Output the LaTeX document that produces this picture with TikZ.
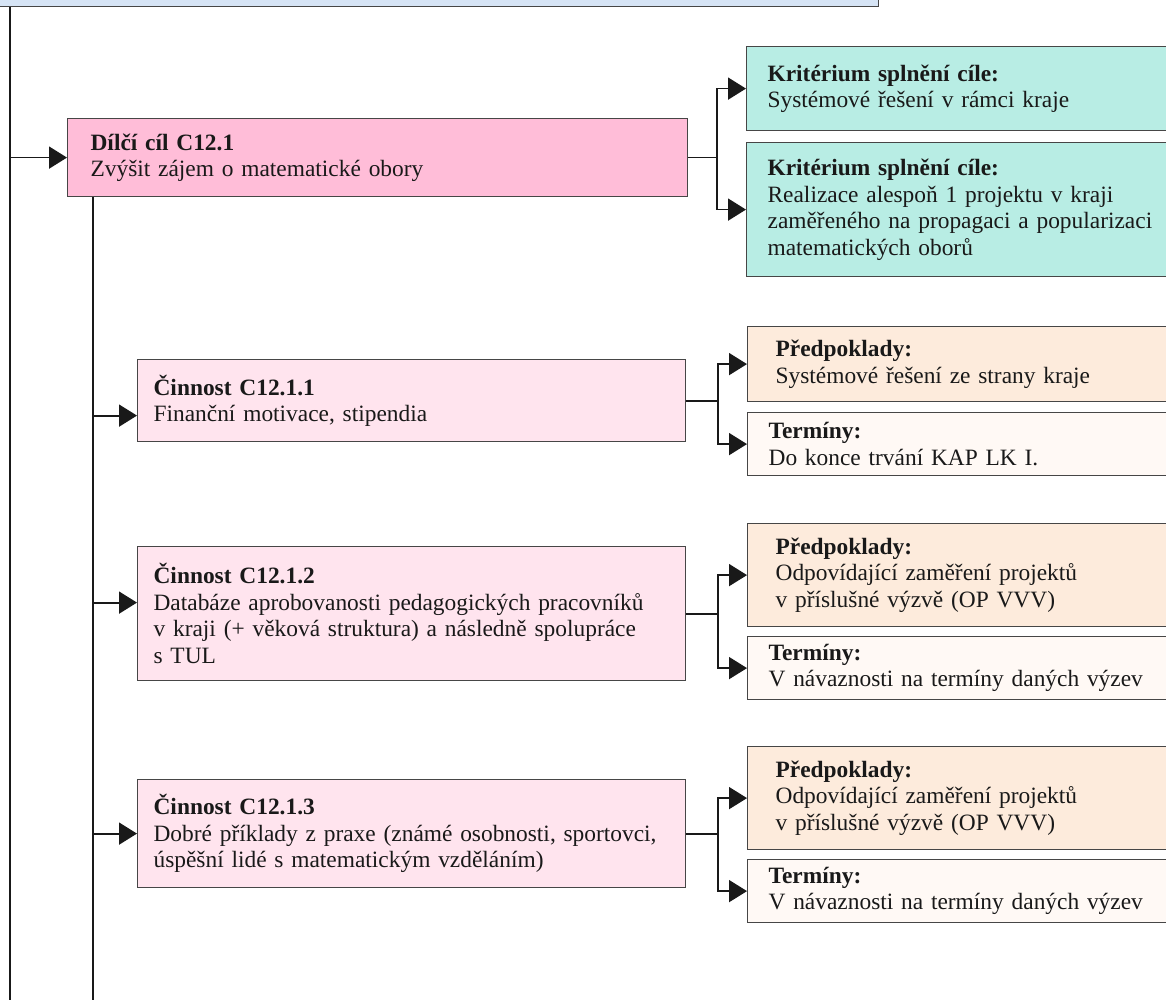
\documentclass[tikz,border=0pt]{standalone}
\usepackage{fontspec}
\setmainfont{Liberation Serif}
\usepackage{xcolor}
\usetikzlibrary{arrows.meta}

\definecolor{goalblue}{RGB}{214,228,245}
\definecolor{subpink}{RGB}{255,189,216}
\definecolor{actpink}{RGB}{255,228,238}
\definecolor{critgreen}{RGB}{184,237,228}
\definecolor{prepeach}{RGB}{253,235,220}
\definecolor{termcream}{RGB}{255,249,245}

\begin{document}
\begin{tikzpicture}[
  x=0.5pt, y=-0.5pt,
  font=\fontsize{11.7}{13.25}\selectfont,
  box/.style={draw=gray!55!black, line width=0.6pt, anchor=north west,
              align=left, text=black!90, inner ysep=2pt},
  goalbox/.style={draw=gray!55!black, line width=0.6pt, fill=goalblue,
                  anchor=south west, minimum width=449pt, minimum height=40pt},
  subbox/.style={box, fill=subpink, inner xsep=11.5pt, text width=287pt,
                 minimum height=39pt},
  actbox/.style={box, fill=actpink, inner xsep=8pt, text width=258pt},
  critbox/.style={box, fill=critgreen, inner xsep=10.5pt, text width=204pt},
  prebox/.style={box, fill=prepeach, inner xsep=14pt, text width=197pt},
  termbox/.style={box, fill=termcream, inner xsep=10.5pt, text width=204pt,
                  minimum height=31.5pt},
  link/.style={line width=0.9pt, draw=black!90},
  arr/.style={link, -{Triangle[length=9pt,width=11pt]}},
]
  \useasboundingbox (0,0) rectangle (1166,1000);

  % Goal strip (cut off at the top)
  \node[goalbox] (goal) at (-20,7) {};

  % Sub-goal and its criteria
  \node[subbox] (sub) at (67,118)
    {\textbf{Dílčí cíl C12.1}\\Zvýšit zájem o matematické obory};
  \node[critbox, minimum height=42pt] (crit1) at (746,46)
    {\textbf{Kritérium splnění cíle:}\\Systémové řešení v rámci kraje};
  \node[critbox, minimum height=67pt] (crit2) at (746,142)
    {\textbf{Kritérium splnění cíle:}\\Realizace alespoň 1 projektu v kraji\\
     zaměřeného na propagaci a popularizaci\\matematických oborů};

  % Activities
  \node[actbox, minimum height=41pt] (act1) at (137,359)
    {\textbf{Činnost C12.1.1}\\Finanční motivace, stipendia};
  \node[actbox, minimum height=67pt] (act2) at (137,546)
    {\textbf{Činnost C12.1.2}\\Databáze aprobovanosti pedagogických pracovníků\\
     v kraji (+ věková struktura) a následně spolupráce\\s TUL};
  \node[actbox, minimum height=54pt] (act3) at (137,779)
    {\textbf{Činnost C12.1.3}\\Dobré příklady z praxe (známé osobnosti, sportovci,\\
     úspěšní lidé s matematickým vzděláním)};

  % Prerequisites and deadlines
  \node[prebox, minimum height=37.5pt] (pre1) at (747,326)
    {\textbf{Předpoklady:}\\Systémové řešení ze strany kraje};
  \node[termbox] (term1) at (747,412)
    {\textbf{Termíny:}\\Do konce trvání KAP LK I.};
  \node[prebox, minimum height=51.5pt] (pre2) at (747,523)
    {\textbf{Předpoklady:}\\Odpovídající zaměření projektů\\v příslušné výzvě (OP VVV)};
  \node[termbox] (term2) at (747,636)
    {\textbf{Termíny:}\\V návaznosti na termíny daných výzev};
  \node[prebox, minimum height=51.5pt] (pre3) at (747,746)
    {\textbf{Předpoklady:}\\Odpovídající zaměření projektů\\v příslušné výzvě (OP VVV)};
  \node[termbox] (term3) at (747,859)
    {\textbf{Termíny:}\\V návaznosti na termíny daných výzev};

  % Trunk lines
  \coordinate (trunkA) at (10,1010);
  \coordinate (trunkB) at (93,1010);
  \draw[link] (goal.south -| trunkA) -- (trunkA);
  \draw[link] (sub.south -| trunkB) -- (trunkB);
  \draw[arr] (sub.west -| trunkA) -- (sub.west);

  \coordinate (in1) at ([yshift=-7.5pt]act1.west);
  \coordinate (in2) at ([yshift=5.5pt]act2.west);
  \draw[arr] (in1 -| trunkB) -- (in1);
  \draw[arr] (in2 -| trunkB) -- (in2);
  \draw[arr] (act3.west -| trunkB) -- (act3.west);

  % Right-hand forks
  \draw[link] (sub.east) -- ++(29,0) coordinate (subfork);
  \draw[arr] (subfork) |- (crit1.west);
  \draw[arr] (subfork) |- (crit2.west);

  \draw[link] (act1.east) -- ++(32,0) coordinate (fork1);
  \draw[arr] (fork1) |- (pre1.west);
  \draw[arr] (fork1) |- (term1.west);

  \draw[link] (act2.east) -- ++(32,0) coordinate (fork2);
  \draw[arr] (fork2) |- (pre2.west);
  \draw[arr] (fork2) |- (term2.west);

  \draw[link] (act3.east) -- ++(32,0) coordinate (fork3);
  \draw[arr] (fork3) |- (pre3.west);
  \draw[arr] (fork3) |- (term3.west);
\end{tikzpicture}
\end{document}
